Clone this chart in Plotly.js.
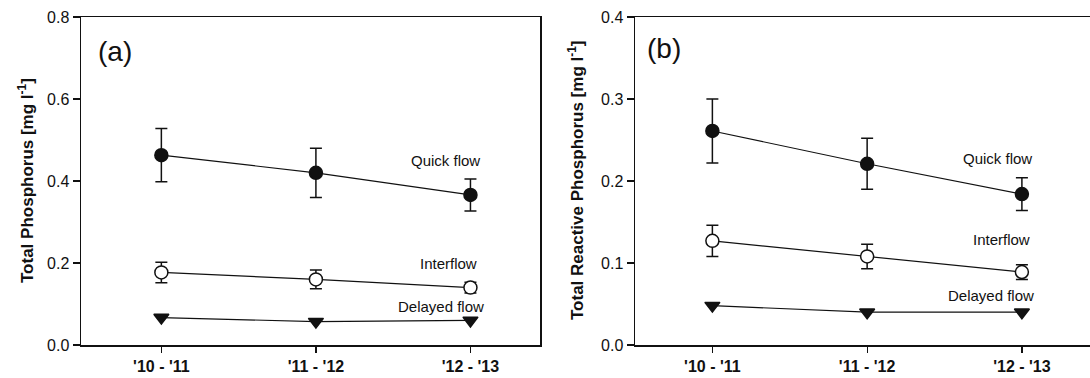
<!DOCTYPE html>
<html>
<head>
<meta charset="utf-8">
<script src="https://cdn.plot.ly/plotly-3.0.1.min.js"></script>
<style>
  html, body { margin: 0; padding: 0; background: #fff; }
  #chart { width: 1090px; height: 378px; }
</style>
</head>
<body>
<div id="chart"></div>
<script>
// Hydrological years
const years = ["'10 - '11", "'11 - '12", "'12 - '13"];

// (a) Total Phosphorus [mg l-1]: mean and error
const tpQuick = [0.463, 0.420, 0.366];
const tpQuickErr = [0.065, 0.060, 0.039];
const tpInter = [0.177, 0.160, 0.140];
const tpInterErr = [0.025, 0.023, 0.013];
const tpDelayed = [0.067, 0.057, 0.060];

// (b) Total Reactive Phosphorus [mg l-1]: mean and error
const trpQuick = [0.261, 0.221, 0.184];
const trpQuickErr = [0.039, 0.031, 0.020];
const trpInter = [0.127, 0.108, 0.089];
const trpInterErr = [0.019, 0.015, 0.009];
const trpDelayed = [0.048, 0.040, 0.040];

const FONT = 'Arial, "Liberation Sans", sans-serif';
const INK = '#111';

// plot area in pixels
const L = 81, T = 17, B = 33, W = 1090, H = 378;
const PW = W - L, PH = H - T - B;

function series(y, err, symbol, fill, xa, ya) {
  const t = {
    x: years, y: y, xaxis: xa, yaxis: ya,
    type: 'scatter', mode: 'lines+markers',
    line: { color: INK, width: 1.2 },
    marker: { symbol: symbol, size: 13, color: fill, line: { color: INK, width: 1.5 } },
    hoverinfo: 'x+y', showlegend: false
  };
  if (err) t.error_y = { type: 'data', array: err, visible: true, color: INK, thickness: 1.5, width: 6 };
  return t;
}

const data = [
  series(tpQuick, tpQuickErr, 'circle', INK, 'x', 'y'),
  series(tpInter, tpInterErr, 'circle', '#fff', 'x', 'y'),
  series(tpDelayed, null, 'triangle-down', INK, 'x', 'y'),
  series(trpQuick, trpQuickErr, 'circle', INK, 'x2', 'y2'),
  series(trpInter, trpInterErr, 'circle', '#fff', 'x2', 'y2'),
  series(trpDelayed, null, 'triangle-down', INK, 'x2', 'y2')
];

const xBase = {
  type: 'category', showgrid: false, zeroline: false,
  showline: true, linecolor: INK, linewidth: 1.5, mirror: true,
  ticks: 'outside', ticklen: 6, tickwidth: 1.2, tickcolor: INK,
  tickfont: { family: FONT, size: 16, color: INK, weight: 'bold' }
};
const yBase = {
  showgrid: false, zeroline: false,
  showline: true, linecolor: INK, linewidth: 1.5,
  ticks: 'outside', ticklen: 7, tickwidth: 1.2, tickcolor: INK,
  tickfont: { family: FONT, size: 16, color: INK }
};

const labelFont = { family: FONT, size: 15, color: INK };
function lab(text, x, y, xref, yref) {
  return { text: text, x: x, y: y, xref: xref, yref: yref, showarrow: false,
           font: labelFont, xanchor: 'center', yanchor: 'middle' };
}
function px(xpx) { return (xpx - L) / PW; }
function py(ypx) { return (H - B - ypx) / PH; }
function ytitle(text, xpx) {
  return { text: text, xref: 'paper', yref: 'paper', x: px(xpx), y: 0.5,
           xanchor: 'center', yanchor: 'middle', textangle: -90, showarrow: false,
           font: { family: FONT, size: 17, color: INK, weight: 'bold' } };
}

const layout = {
  width: W, height: H,
  margin: { l: L, r: 0, t: T, b: B },
  paper_bgcolor: '#fff', plot_bgcolor: '#fff',
  font: { family: FONT, color: INK },
  xaxis: Object.assign({}, xBase, { domain: [0, px(540)], range: [-0.52, 2.45], anchor: 'y' }),
  yaxis: Object.assign({}, yBase, { range: [0, 0.8], dtick: 0.2, tickformat: '.1f', mirror: true, anchor: 'x' }),
  xaxis2: Object.assign({}, xBase, { domain: [px(635), 1], range: [-0.5, 2.44], anchor: 'y2' }),
  yaxis2: Object.assign({}, yBase, { range: [0, 0.4], dtick: 0.1, tickformat: '.1f', mirror: false, anchor: 'x2' }),
  annotations: [
    ytitle('Total Phosphorus [mg l<sup>-1</sup>]', 26),
    ytitle('Total Reactive Phosphorus [mg l<sup>-1</sup>]', 576),
    { text: '(a)', xref: 'paper', yref: 'paper', x: px(115), y: py(52),
      showarrow: false, xanchor: 'center', yanchor: 'middle', font: { family: FONT, size: 28, color: INK } },
    { text: '(b)', xref: 'paper', yref: 'paper', x: px(664), y: py(49),
      showarrow: false, xanchor: 'center', yanchor: 'middle', font: { family: FONT, size: 28, color: INK } },
    lab('Quick flow', 1.84, 0.449, 'x', 'y'),
    lab('Interflow', 1.86, 0.199, 'x', 'y'),
    lab('Delayed flow', 1.81, 0.093, 'x', 'y'),
    lab('Quick flow', 1.84, 0.228, 'x2', 'y2'),
    lab('Interflow', 1.87, 0.129, 'x2', 'y2'),
    lab('Delayed flow', 1.80, 0.060, 'x2', 'y2')
  ]
};

Plotly.newPlot('chart', data, layout, { displayModeBar: false, staticPlot: true });
</script>
</body>
</html>
